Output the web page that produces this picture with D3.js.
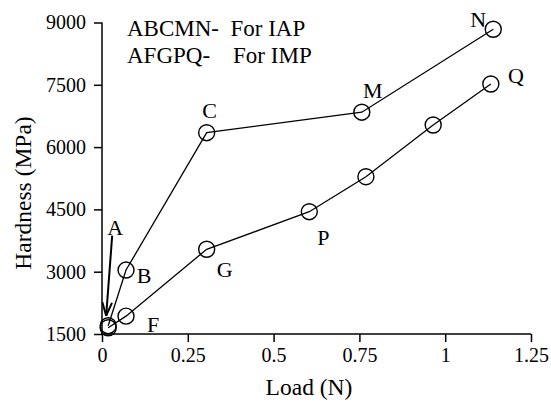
<!DOCTYPE html>
<html>
<head>
<meta charset="utf-8">
<script src="https://cdn.jsdelivr.net/npm/d3@7"></script>
<style>
  body { margin: 0; background: #fff; }
  text { font-family: "Liberation Serif", "Times New Roman", serif; fill: #000; }
</style>
</head>
<body>
<div id="chart"></div>
<script>
"use strict"

// data
var iapLoad = [0.018, 0.070, 0.305, 0.757, 1.140];
var iapHardness = [1700, 3040, 6347, 6840, 8837];
var iapLabels = ["A", "B", "C", "M", "N"];

var impLoad = [0.018, 0.070, 0.305, 0.604, 0.769, 0.965, 1.133];
var impHardness = [1650, 1930, 3540, 4445, 5287, 6532, 7519];
var impLabels = ["A", "F", "G", "P", "", "", "Q"];

var xTicks = [0, 0.25, 0.5, 0.75, 1, 1.25];
var xTickLabels = ["0", "0.25", "0.5", "0.75", "1", "1.25"];
var yTicks = [1500, 3000, 4500, 6000, 7500, 9000];

var legendLines = ["ABCMN-  For IAP", "AFGPQ-    For IMP"];

// label offsets from the point (px), by letter
var labelOffset = {
  A: [7, -91], B: [18, 13], C: [3, -15], M: [11, -14],
  N: [-15, -2], F: [27, 16], G: [18, 28], P: [14, 33], Q: [25, -1]
};

var size = {width: 551, height: 402};
var margin = {top: 22.5, right: 20, bottom: 68, left: 102};
var innerW = 531 - margin.left, innerH = 334 - margin.top;

var svg = d3.select("#chart").append("svg")
  .attr("width", size.width)
  .attr("height", size.height);

var g = svg.append("g")
  .attr("transform", "translate(" + margin.left + "," + margin.top + ")");

var x = d3.scaleLinear().domain([0, 1.25]).range([0, innerW]);
var y = d3.scaleLinear().domain([1500, 9000]).range([innerH, 0]);

// axes
var xAxis = g.append("g")
  .attr("transform", "translate(0," + innerH + ")")
  .call(d3.axisBottom(x).tickValues(xTicks).tickSize(8).tickPadding(6)
    .tickFormat(function(d, i) { return xTickLabels[i]; }));
var yAxis = g.append("g")
  .call(d3.axisLeft(y).tickValues(yTicks).tickSize(8).tickPadding(8)
    .tickFormat(d3.format("d")));

[xAxis, yAxis].forEach(function(a) {
  a.select(".domain").attr("stroke-width", 1.5).attr("d",
    a === xAxis ? "M0,0H" + innerW : "M0,0V" + innerH);
  a.selectAll(".tick line").attr("stroke-width", 1.5);
  a.selectAll("text").style("font-family", "Liberation Serif").style("font-size", "20px");
});

// axis titles
svg.append("text")
  .attr("x", 309).attr("y", 395)
  .attr("text-anchor", "middle")
  .style("font-size", "23.5px")
  .text("Load (N)");
svg.append("text")
  .attr("transform", "translate(31,193) rotate(-90)")
  .attr("text-anchor", "middle")
  .style("font-size", "23.5px")
  .text("Hardness (MPa)");

// series
var series = [
  {load: iapLoad, hardness: iapHardness, labels: iapLabels, first: true},
  {load: impLoad, hardness: impHardness, labels: impLabels, first: false}
];
var line = d3.line()
  .x(function(d) { return x(d[0]); })
  .y(function(d) { return y(d[1]); });

series.forEach(function(s) {
  var pts = s.load.map(function(v, i) { return [v, s.hardness[i], s.labels[i]]; });
  g.append("path")
    .attr("d", line(pts))
    .attr("fill", "none")
    .attr("stroke", "#000")
    .attr("stroke-width", 1.3);
  g.selectAll(null).data(pts).enter().append("circle")
    .attr("cx", function(d) { return x(d[0]); })
    .attr("cy", function(d) { return y(d[1]); })
    .attr("r", 8)
    .attr("fill", "none")
    .attr("stroke", "#000")
    .attr("stroke-width", 1.4);
  // the shared point A is labelled once
  g.selectAll(null).data(pts.filter(function(d) { return d[2] && (s.first || d[2] != "A"); }))
    .enter().append("text")
    .attr("x", function(d) { return x(d[0]) + labelOffset[d[2]][0]; })
    .attr("y", function(d) { return y(d[1]) + labelOffset[d[2]][1]; })
    .attr("text-anchor", "middle")
    .style("font-size", "22px")
    .text(function(d) { return d[2]; });
});

// arrow from label A down to point A
var ax = x(iapLoad[0]), ay = y(iapHardness[0]);
var arrow = g.append("g").attr("stroke", "#000").attr("stroke-width", 2).attr("fill", "none");
var x0 = ax + 4, y0 = ay - 90, x1 = ax - 2, y1 = ay - 10;
arrow.append("line").attr("x1", x0).attr("y1", y0).attr("x2", x1).attr("y2", y1);
var ang = Math.atan2(y1 - y0, x1 - x0);
[-0.35, 0.35].forEach(function(da) {
  arrow.append("line")
    .attr("x1", x1).attr("y1", y1)
    .attr("x2", x1 - 14 * Math.cos(ang + da))
    .attr("y2", y1 - 14 * Math.sin(ang + da));
});

// legend
legendLines.forEach(function(t, i) {
  svg.append("text")
    .attr("x", 127).attr("y", 36 + i * 27)
    .attr("xml:space", "preserve")
    .style("white-space", "pre")
    .style("font-size", "23px")
    .text(t);
});
</script>
</body>
</html>
